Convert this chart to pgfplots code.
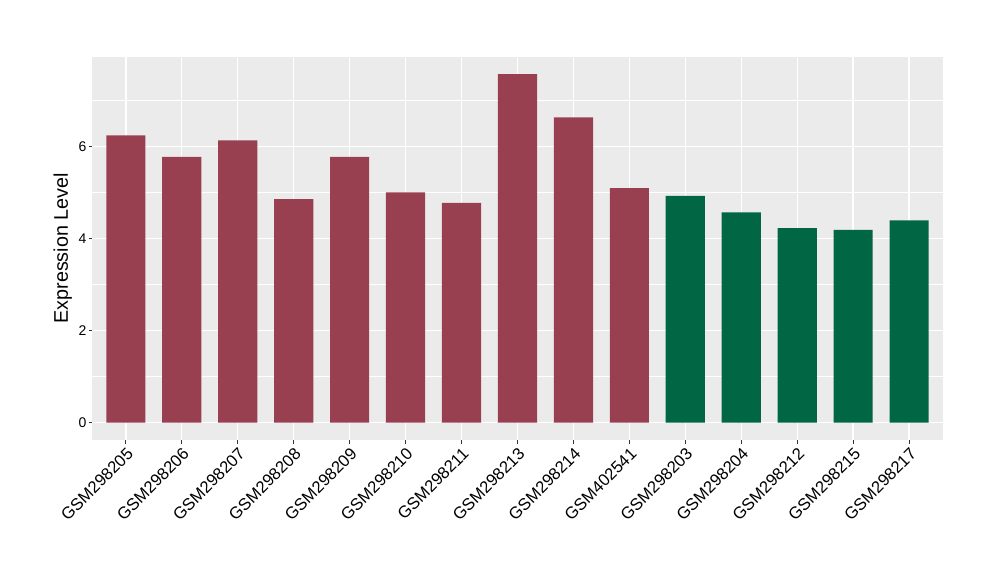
\documentclass[border=0pt]{standalone}
\usepackage{pgfplots}
\pgfplotsset{compat=1.18}
\usepackage{fontspec}
\setmainfont{Liberation Sans}
\definecolor{panelbg}{HTML}{EBEBEB}
\definecolor{barred}{HTML}{994050}
\definecolor{bargreen}{HTML}{006644}
\definecolor{tickgray}{HTML}{333333}
\begin{document}
\begin{tikzpicture}
\path[use as bounding box] (0,0) rectangle (750pt,435pt);
\begin{axis}[
  at={(69.2pt,105pt)}, anchor=south west,
  scale only axis, width=637.8pt, height=287.5pt,
  axis background/.style={fill=panelbg},
  axis line style={draw=none},
  xmin=-0.6, xmax=14.6, ymin=-0.379, ymax=7.96,
  xtick={0,...,14},
  xtick pos=bottom, ytick pos=left,
  xticklabels={GSM298205,GSM298206,GSM298207,GSM298208,GSM298209,GSM298210,GSM298211,GSM298213,GSM298214,GSM402541,GSM298203,GSM298204,GSM298212,GSM298215,GSM298217},
  xticklabel style={rotate=45, anchor=north east, font=\fontsize{12.5}{14}\selectfont, inner sep=1.5pt},
  ytick={0,2,4,6}, minor ytick={1,3,5,7},
  yticklabel style={font=\fontsize{10.5}{12}\selectfont, inner sep=1.5pt},
  /pgf/number format/assume math mode=true,
  grid=both,
  major grid style={white, line width=1.0pt},
  minor grid style={white, line width=0.5pt},
  tick style={tickgray, line width=0.8pt},
  tick align=outside, major tick length=2.7pt, minor tick length=0pt,
  ylabel={Expression Level},
  ylabel style={font=\fontsize{14.8}{16}\selectfont},
  bar width=0.7,
]
\addplot[ybar, bar shift=0pt, fill=barred, draw=none] coordinates {
 (0,6.25) (1,5.78) (2,6.14) (3,4.86) (4,5.78) (5,5.01) (6,4.78) (7,7.58) (8,6.64) (9,5.10)
};
\addplot[ybar, bar shift=0pt, fill=bargreen, draw=none] coordinates {
 (10,4.93) (11,4.57) (12,4.23) (13,4.19) (14,4.40)
};
\end{axis}
\end{tikzpicture}
\end{document}
